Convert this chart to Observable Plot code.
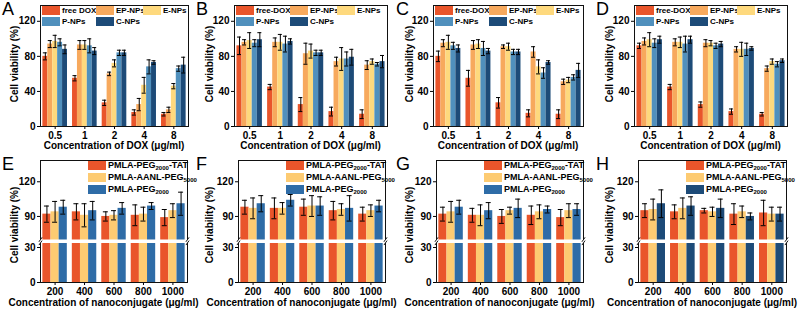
<!DOCTYPE html>
<html><head><meta charset="utf-8">
<script src="https://cdn.jsdelivr.net/npm/d3@7"></script>
<script src="https://cdn.jsdelivr.net/npm/@observablehq/plot@0.6"></script>
<style>
html,body{margin:0;padding:0;background:#fff;}
#fig{position:relative;width:800px;height:311px;overflow:hidden;font-family:"Liberation Sans",Arial,Helvetica,sans-serif;color:#000;}
.pn{position:absolute;}
.pn svg{display:block;overflow:visible;}
.t{position:absolute;white-space:nowrap;line-height:1;}
.b{font-weight:bold;}
.leg{position:absolute;display:flex;align-items:center;font-weight:bold;font-size:8px;line-height:9px;white-space:nowrap;}
.leg .sw{width:18px;height:9px;margin-right:2px;flex:none;}
.leg.big{font-size:9px;}
.leg sub{font-size:6px;vertical-align:-2px;line-height:0;}
</style></head>
<body><div id="fig"></div>
<script>
// ---------------- data ----------------
const doxConc = ["0.5", "1", "2", "4", "8"];
const nanoConc = ["200", "400", "600", "800", "1000"];
const doxSeriesA = ["free DOX", "EP-NPs", "E-NPs", "P-NPs", "C-NPs"];
const doxSeries = ["free-DOX", "EP-NPs", "E-NPs", "P-NPs", "C-NPs"];
const nanoSeries = ["PMLA-PEG2000-TAT", "PMLA-AANL-PEG5000", "PMLA-PEG2000"];
const doxTicks = [0, 40, 80, 120];
const nanoTicks = [0, 30, 90, 120];

// rows = series, columns = concentrations
const valuesA = [[80,55,27,16,14],[94,93,60,25,19],[97,93,72,47,46],[96,92,84,68,66],[88,86,84,73,70]];
const errorsA = [[4,3,3,3,2],[4,5,2,7,3],[7,5,4,9,3],[4,8,3,8,3],[5,4,3,2,9]];
const valuesB = [[92,45,25,17,14],[96,96,83,74,70],[98,96,86,77,74],[95,94,84,77,71],[99,97,84,79,74]];
const errorsB = [[10,3,8,5,5],[3,5,12,5,5],[9,9,8,13,3],[4,9,3,8,2],[8,3,3,9,7]];
const valuesC = [[80,55,27,15,14],[95,93,91,85,51],[96,94,91,68,53],[92,89,85,61,56],[89,86,85,73,64]];
const errorsC = [[6,9,6,4,5],[4,5,2,6,3],[8,5,4,8,3],[4,8,3,6,3],[4,3,3,2,8]];
const valuesD = [[92,45,25,17,14],[97,96,95,88,66],[99,96,95,88,74],[95,94,92,88,71],[99,99,94,89,75]];
const errorsD = [[3,3,3,3,2],[4,4,4,3,3],[8,6,3,8,3],[5,9,3,7,3],[4,4,3,2,2]];
const valuesE = [[92,94,90,91,89],[94,91,91,92,95],[98,95,97,99,101]];
const errorsE = [[7,7,4,9,7],[9,10,4,6,6],[6,8,5,3,10]];
const valuesF = [[98,97,98,95,92],[97,97,99,96,95],[101,104,99,97,99]];
const errorsF = [[6,9,7,8,6],[9,5,9,5,5],[7,5,8,11,5]];
const valuesG = [[92,91,90,91,89],[94,91,95,94,95],[98,95,97,96,96]];
const errorsG = [[6,6,6,8,7],[9,9,3,6,6],[6,7,8,3,5]];
const valuesH = [[95,94,95,92,93],[96,97,94,94,92],[101,99,97,90,92]];
const errorsH = [[6,6,2,9,11],[9,9,4,5,6],[12,8,8,3,6]];

// ---------------- styles ----------------
const doxColors = ["#E9552B", "#F7A95D", "#FED97D", "#5090BD", "#1D4B78"];
const nanoColors = ["#E9552B", "#FDCB72", "#2E6CA7"];
const nanoColorsH = ["#E9552B", "#FDCB72", "#1D4B78"];
const FONT = '"Liberation Sans", Arial, Helvetica, sans-serif';

const fig = document.getElementById("fig");
function addDiv(cls, html, css) {
  const d = document.createElement("div");
  d.className = cls; d.innerHTML = html;
  Object.assign(d.style, css);
  fig.appendChild(d);
  return d;
}
function legendHTML(s) { return s.replace(/PEG(\d{4})/g, "PEG<sub>$1</sub>"); }

// slanted break symbol for the broken axis
const slash = {draw(ctx, size) { const r = Math.sqrt(size) / 2; ctx.moveTo(-r * 0.7, r); ctx.lineTo(r * 0.7, -r); }};

const panels = [
  {letter:"A", colL:0,   frame:[40,188],  top:true,  series:doxSeriesA, values:valuesA, errors:errorsA, colors:doxColors},
  {letter:"B", colL:195, frame:[234,387], top:true,  series:doxSeries,  values:valuesB, errors:errorsB, colors:doxColors},
  {letter:"C", colL:395, frame:[433,583], top:true,  series:doxSeries,  values:valuesC, errors:errorsC, colors:doxColors},
  {letter:"D", colL:595, frame:[634,787], top:true,  series:doxSeries,  values:valuesD, errors:errorsD, colors:doxColors},
  {letter:"E", colL:0,   frame:[40,187],  top:false, series:nanoSeries, values:valuesE, errors:errorsE, colors:nanoColors},
  {letter:"F", colL:195, frame:[238,385], top:false, series:nanoSeries, values:valuesF, errors:errorsF, colors:nanoColors},
  {letter:"G", colL:395, frame:[436,583], top:false, series:nanoSeries, values:valuesG, errors:errorsG, colors:nanoColors},
  {letter:"H", colL:595, frame:[638,786], top:false, series:nanoSeries, values:valuesH, errors:errorsH, colors:nanoColorsH}
];

const PI = 0.17, PO = 0.08;
// broken axis layout for lower row
const brk = {lo: 34, hi: 70, max: 138.4};

panels.forEach(p => {
  const W = 200;
  const rowT = p.top ? 0 : 155;
  const H = p.top ? 155 : 156;
  const mt = 5, mb = 29;
  const ml = p.frame[0] - p.colL, mr = p.colL + W - p.frame[1];
  const cats = p.top ? doxConc : nanoConc;
  const band = d3.scaleBand().domain(cats).range([ml, W - mr]).paddingInner(PI).paddingOuter(PO).align(0.5);
  const bw = band.bandwidth();
  const n = p.series.length, sw = bw / n;
  const cap = p.top ? 2 : 2.5;
  const rows = [];
  p.series.forEach((s, k) => cats.forEach((c, i) => rows.push({series: s, k, cat: c, value: p.values[k][i], err: p.errors[k][i]})));

  let yOpts;
  if (p.top) {
    yOpts = {domain: [0, 138], ticks: doxTicks, tickSize: 3, tickPadding: 2, label: null};
  } else {
    const y0 = H - mb;
    const lowScale = 1.1667, upScale = 1.156;
    yOpts = {type: "linear", domain: [0, brk.lo, brk.hi, brk.max],
      range: [y0, y0 - brk.lo * lowScale, mt + (brk.max - brk.hi) * upScale, mt],
      ticks: nanoTicks, tickSize: 3, tickPadding: 2, label: null};
  }

  const marks = [];
  p.series.forEach((s, k) => {
    const r = rows.filter(d => d.k === k);
    marks.push(Plot.barY(r, {x: "cat", y: "value", fill: "series", insetLeft: k * sw, insetRight: (n - 1 - k) * sw}));
  });
  p.series.forEach((s, k) => {
    const r = rows.filter(d => d.k === k);
    const dx = (k + 0.5) * sw - bw / 2;
    marks.push(Plot.ruleX(r, {x: "cat", y1: d => d.value - d.err, y2: d => d.value + d.err, dx, stroke: "#000", strokeWidth: 1}));
    marks.push(Plot.tickY(r, {x: "cat", y: d => d.value + d.err, dx, insetLeft: bw / 2 - cap, insetRight: bw / 2 - cap, stroke: "#000", strokeWidth: 1}));
    marks.push(Plot.tickY(r, {x: "cat", y: d => d.value - d.err, dx, insetLeft: bw / 2 - cap, insetRight: bw / 2 - cap, stroke: "#000", strokeWidth: 1}));
  });
  marks.push(Plot.frame({stroke: "#111", strokeWidth: 1}));
  if (!p.top) {
    marks.push(Plot.ruleY([(brk.lo + brk.hi) / 2], {stroke: "#fff", strokeWidth: 3.6, insetLeft: -3, insetRight: -3}));
    ["left", "right"].forEach(fa => {
      marks.push(Plot.dot([brk.lo, brk.hi], {y: d => d, frameAnchor: fa, symbol: slash, r: 2.5, stroke: "#111", strokeWidth: 1, fill: "none"}));
    });
  }

  const svg = Plot.plot({
    width: W, height: H,
    marginLeft: ml, marginRight: mr, marginTop: mt, marginBottom: mb,
    style: {background: "transparent", fontFamily: FONT, fontSize: "10px", fontWeight: "bold", color: "#000", overflow: "visible"},
    x: {domain: cats, paddingInner: PI, paddingOuter: PO, align: 0.5, round: false, tickSize: 3, tickPadding: 2, label: null},
    y: yOpts,
    color: {domain: p.series, range: p.colors},
    marks
  });
  const holder = document.createElement("div");
  holder.className = "pn";
  Object.assign(holder.style, {left: p.colL + "px", top: rowT + "px", width: W + "px", height: H + "px"});
  holder.appendChild(svg);
  fig.appendChild(holder);

  // panel letter
  addDiv("t", p.letter, {left: (p.colL + (p.letter === "A" || p.letter === "E" ? 2 : 1)) + "px", top: (rowT + (p.top ? -0.5 : 0)) + "px", fontSize: "18px"});
  // y title
  const fcx = (p.frame[0] + p.frame[1]) / 2;
  const yc = p.top ? 64 : rowT + 70;
  addDiv("t b", "Cell viability (%)", {left: (p.colL + 15) + "px", top: yc + "px", fontSize: "10px", transform: "translate(-50%,-50%) rotate(-90deg)"});
  // x title
  const xt = p.top ? "Concentration of DOX (μg/ml)" : "Concentration of nanoconjugate (μg/ml)";
  addDiv("t b", xt, {left: (p.top ? fcx : fcx - 10) + "px", top: (p.top ? 146 : 303) + "px", fontSize: "10px", transform: "translate(-50%,-50%)"});
  // legend
  if (p.top) {
    const pos = [[2, 6], [56, 6], [103, 6], [2, 17], [56, 17]];
    p.series.forEach((s, k) => {
      addDiv("leg", `<span class="sw" style="background:${p.colors[k]}"></span><span>${s}</span>`,
        {left: (p.frame[0] + pos[k][0]) + "px", top: pos[k][1] + "px"});
    });
  } else {
    const tops = [160.5, 173, 185];
    p.series.forEach((s, k) => {
      addDiv("leg big", `<span class="sw" style="background:${p.colors[k]}"></span><span>${legendHTML(s)}</span>`,
        {left: (p.frame[0] + 48) + "px", top: tops[k] + "px"});
    });
  }
});
</script>
</body></html>
